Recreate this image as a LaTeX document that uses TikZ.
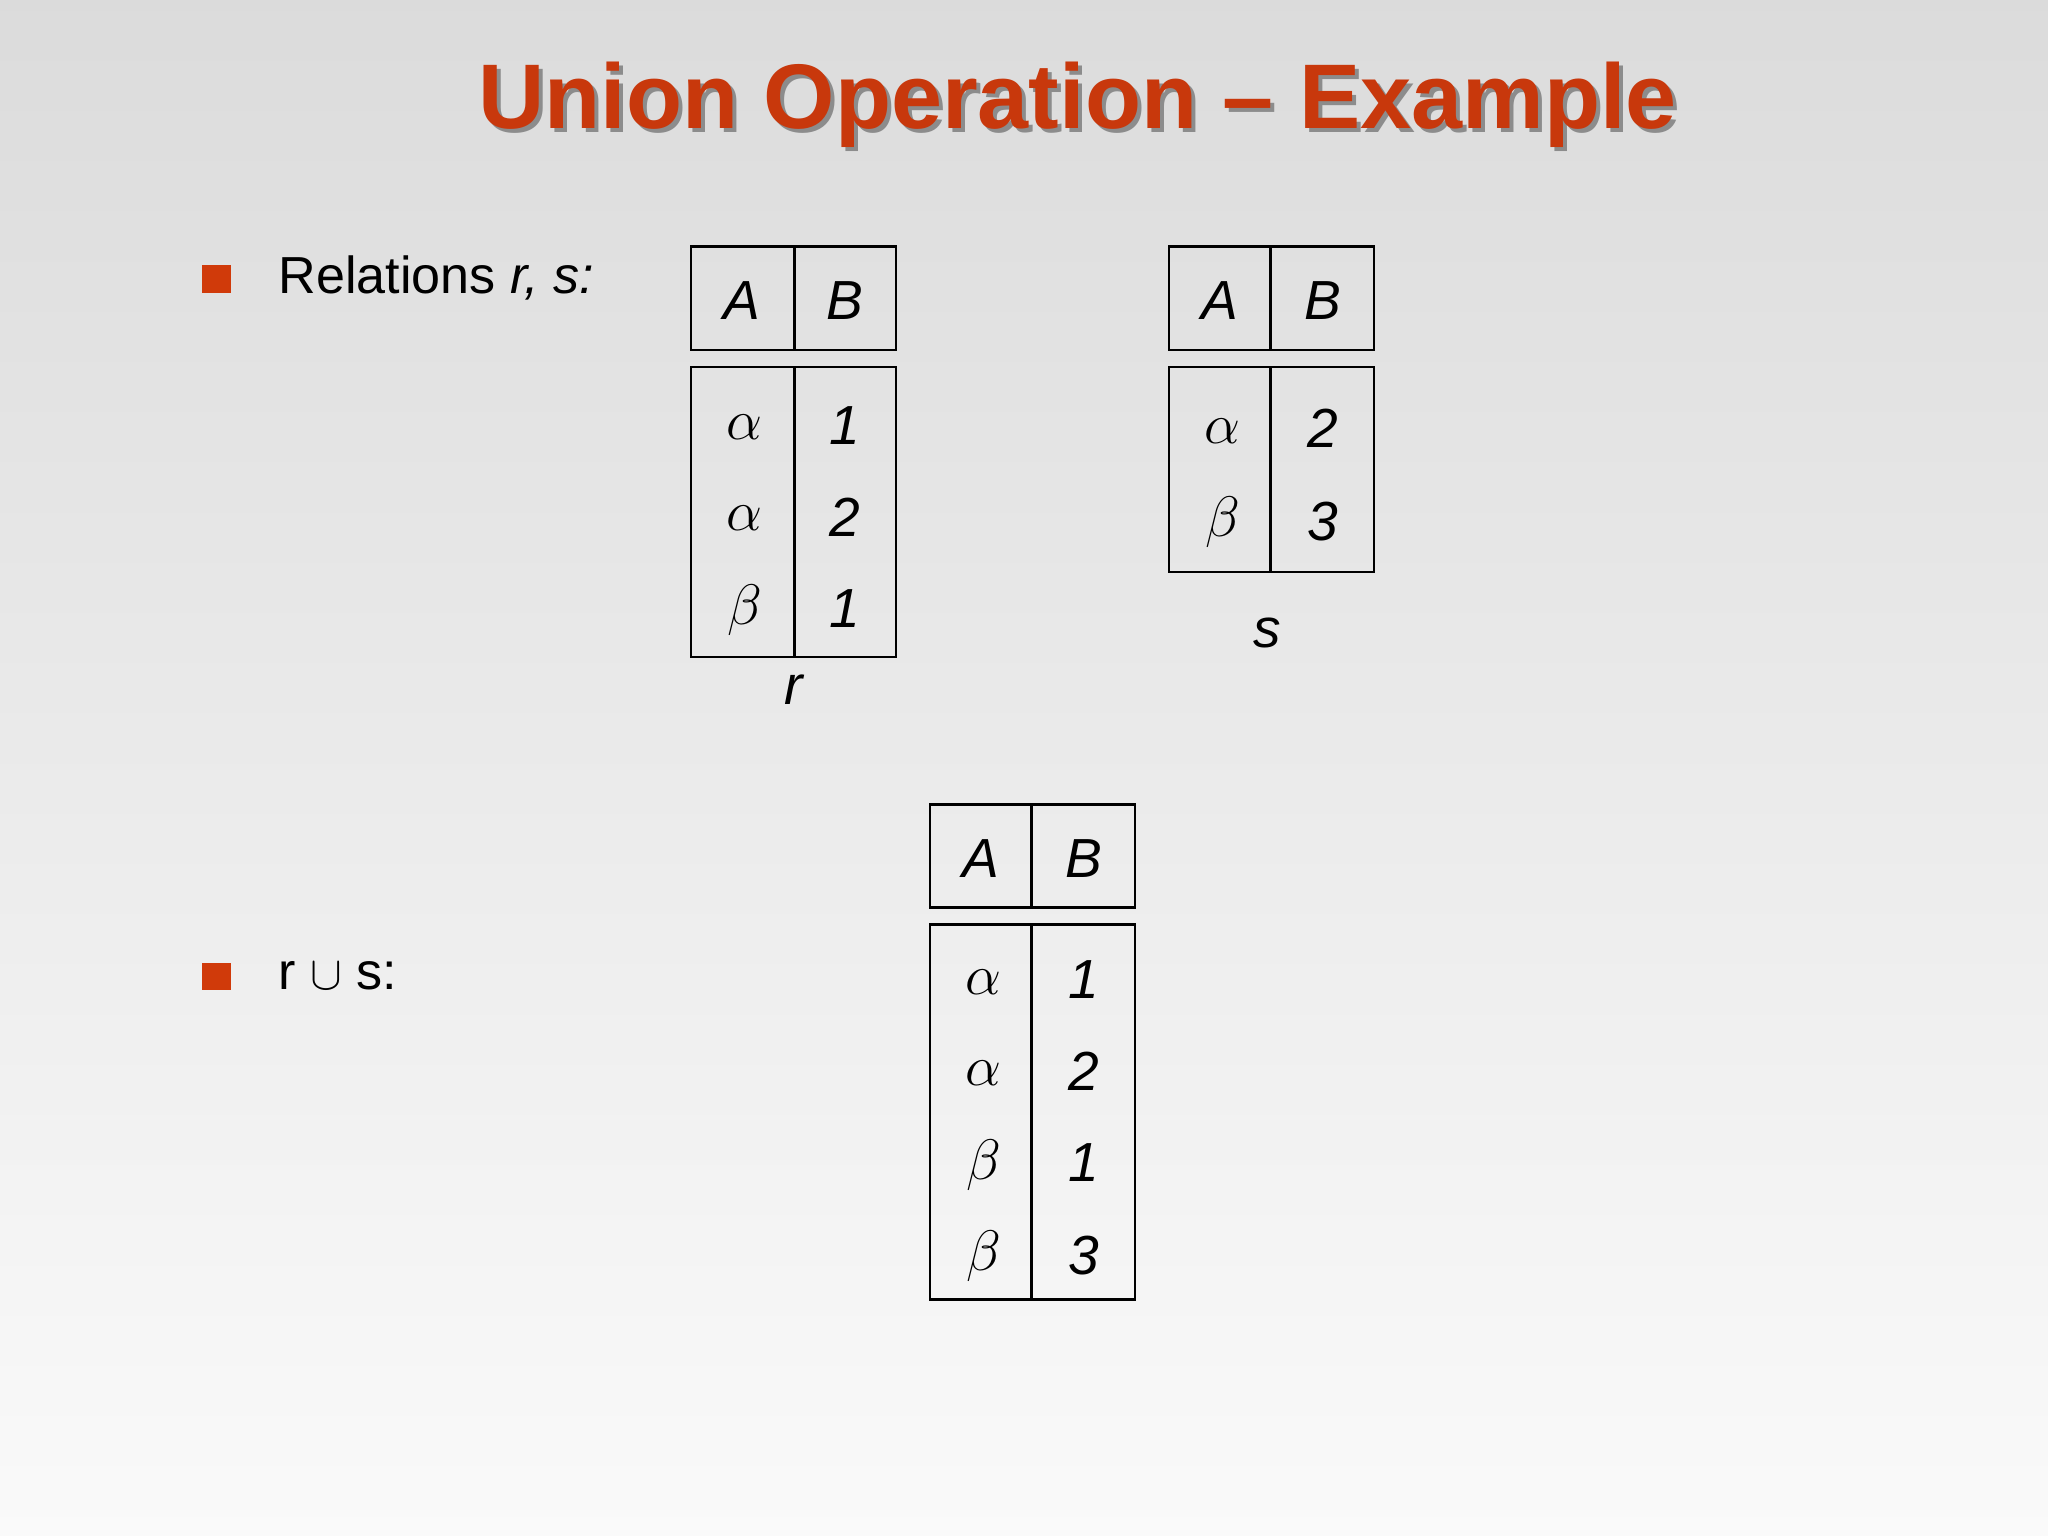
\documentclass[tikz,border=0pt]{standalone}
\usepackage{fontspec}
\usepackage{amsmath}
\setmainfont{Liberation Sans}
\definecolor{titlered}{HTML}{C8380C}
\definecolor{bul}{HTML}{D03A0A}
\begin{document}
\begin{tikzpicture}[x=0.02cm,y=-0.02cm,
  cell/.style={font=\fontsize{24}{28}\selectfont\itshape},
  gr/.style={font=\fontsize{27}{28}\selectfont},
  box/.style={draw=black,line width=1.2pt},
  lbl/.style={font=\fontsize{22.7}{28}\selectfont}]
\shade[top color=black!14,bottom color=black!2] (0,0) rectangle (1568,1176);
\useasboundingbox (0,0) rectangle (1568,1176);
\node[font=\fontsize{40}{44}\selectfont\bfseries,text=black!45] at (828,83) {Union Operation – Example};
\node (title)[font=\fontsize{40}{44}\selectfont\bfseries,text=titlered] at (825,80) {Union Operation – Example};
% bullets
\fill[bul] (155,203) rectangle (177,224);
\fill[bul] (155,737) rectangle (177,758);
\node (t1)[lbl,anchor=west] at (207,213) {Relations \textit{r, s:}};
\node (t2)[lbl,anchor=west] at (207,747) {r $\cup$ s:};
% table r
\draw[box] (529,189) rectangle (686,268); \draw[box] (608,189)--(608,268);
\draw[box] (529,281) rectangle (686,503); \draw[box] (608,281)--(608,503);
\node[cell] (rA) at (568,230) {A}; \node[cell] (rB) at (647,230) {B};
\node[gr] at (570,327) {$\alpha$}; \node[cell] at (647,326) {1};
\node[gr] at (570,397) {$\alpha$}; \node[cell] at (647,396) {2};
\node[gr] at (570,467) {$\beta$}; \node[cell] at (647,466) {1};
\node[cell] (rl) at (608,528) {r};
% table s
\draw[box] (895,189) rectangle (1052,268); \draw[box] (973,189)--(973,268);
\draw[box] (895,281) rectangle (1052,438); \draw[box] (973,281)--(973,438);
\node[cell] (sA) at (934,230) {A}; \node[cell] (sB) at (1013,230) {B};
\node[gr] at (936,330) {$\alpha$}; \node[cell] at (1013,328) {2};
\node[gr] at (936,400) {$\beta$}; \node[cell] at (1013,399) {3};
\node[cell] (sl) at (970,485) {s};
% result
\draw[box] (712,616) rectangle (869,695); \draw[box] (790,616)--(790,695);
\draw[box] (712,708) rectangle (869,995); \draw[box] (790,708)--(790,995);
\node[cell] (uA) at (751,657) {A}; \node[cell] (uB) at (830,657) {B};
\node[gr] at (753,752) {$\alpha$}; \node[cell] at (830,750) {1};
\node[gr] at (753,822) {$\alpha$}; \node[cell] at (830,820) {2};
\node[gr] at (753,892) {$\beta$}; \node[cell] at (830,890) {1};
\node[gr] at (753,962) {$\beta$}; \node[cell] at (830,961) {3};
\end{tikzpicture}
\end{document}
